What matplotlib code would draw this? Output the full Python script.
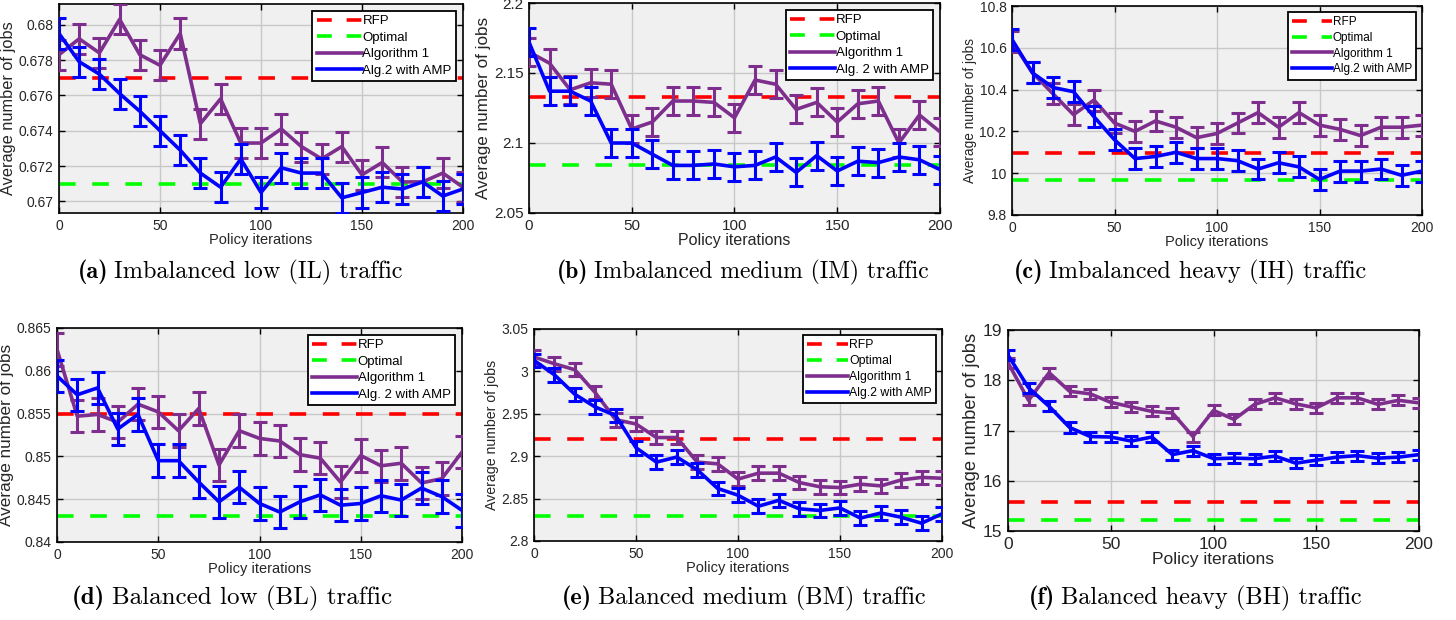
import matplotlib
matplotlib.use("Agg")
import matplotlib.pyplot as plt
from matplotlib.ticker import FuncFormatter
from matplotlib.lines import Line2D
import numpy as np

plt.rcParams['font.family'] = ['Liberation Sans', 'DejaVu Sans']

iters = list(range(0, 201, 10))

# (a) imbalanced low
il_rfp, il_opt = 0.677, 0.671
il_alg1 = [0.6783, 0.6792, 0.6784, 0.6803, 0.6783, 0.6777, 0.6795, 0.6744, 0.6758, 0.6733, 0.6733,
           0.6741, 0.6731, 0.6724, 0.6731, 0.6715, 0.6722, 0.6711, 0.6711, 0.6716, 0.6708]
il_alg2 = [0.6795, 0.6779, 0.6772, 0.6761, 0.6751, 0.6740, 0.6729, 0.6716, 0.6708, 0.6724, 0.6705,
           0.6719, 0.6716, 0.6716, 0.6702, 0.6705, 0.6708, 0.6707, 0.6711, 0.6703, 0.6707]
il_err = 0.00085

# (b) imbalanced medium
im_rfp, im_opt = 2.133, 2.084
im_alg1 = [2.165, 2.157, 2.138, 2.143, 2.142, 2.110, 2.115, 2.130, 2.130, 2.129, 2.118,
           2.145, 2.142, 2.124, 2.129, 2.115, 2.128, 2.130, 2.100, 2.120, 2.108]
im_alg2 = [2.172, 2.137, 2.137, 2.130, 2.100, 2.100, 2.092, 2.084, 2.084, 2.085, 2.083,
           2.084, 2.090, 2.079, 2.091, 2.080, 2.087, 2.086, 2.090, 2.088, 2.081]
im_err = 0.01

# (c) imbalanced heavy
ih_rfp, ih_opt = 10.098, 9.967
ih_alg1 = [10.63, 10.48, 10.38, 10.28, 10.35, 10.24, 10.20, 10.25, 10.22, 10.17, 10.19,
           10.24, 10.29, 10.22, 10.29, 10.23, 10.21, 10.18, 10.22, 10.22, 10.23]
ih_alg2 = [10.64, 10.48, 10.41, 10.39, 10.27, 10.16, 10.07, 10.08, 10.10, 10.07, 10.07,
           10.06, 10.02, 10.05, 10.03, 9.97, 10.01, 10.01, 10.02, 9.99, 10.01]
ih_err = 0.05

# (d) balanced low
bl_rfp, bl_opt = 0.855, 0.843
bl_alg1 = [0.8625, 0.8547, 0.8549, 0.8540, 0.8561, 0.8552, 0.8530, 0.8556, 0.8490, 0.8530, 0.8521,
           0.8518, 0.8502, 0.8498, 0.8470, 0.8501, 0.8489, 0.8492, 0.8469, 0.8474, 0.8505]
bl_alg2 = [0.8594, 0.8572, 0.8580, 0.8532, 0.8549, 0.8495, 0.8495, 0.8470, 0.8447, 0.8464, 0.8445,
           0.8435, 0.8447, 0.8455, 0.8443, 0.8445, 0.8454, 0.8449, 0.8463, 0.8453, 0.8437]
bl_err = 0.0019

# (e) balanced medium
bm_rfp, bm_opt = 2.920, 2.829
bm_alg1 = [3.017, 3.009, 3.002, 2.975, 2.943, 2.938, 2.922, 2.922, 2.893, 2.891, 2.873,
           2.880, 2.880, 2.869, 2.864, 2.863, 2.867, 2.865, 2.872, 2.875, 2.874]
bm_alg2 = [3.013, 2.996, 2.973, 2.958, 2.948, 2.910, 2.893, 2.899, 2.884, 2.862, 2.854,
           2.841, 2.848, 2.838, 2.836, 2.839, 2.827, 2.833, 2.828, 2.821, 2.832]
bm_err = 0.008

# (f) balanced heavy
bh_rfp, bh_opt = 15.58, 15.226
bh_alg1 = [18.35, 17.60, 18.15, 17.78, 17.73, 17.56, 17.47, 17.38, 17.35, 16.88, 17.40,
           17.22, 17.52, 17.65, 17.53, 17.45, 17.65, 17.65, 17.52, 17.60, 17.55]
bh_alg2 = [18.50, 17.85, 17.48, 17.06, 16.88, 16.87, 16.79, 16.87, 16.52, 16.60, 16.44,
           16.45, 16.44, 16.49, 16.35, 16.41, 16.47, 16.50, 16.45, 16.47, 16.52]
bh_err = 0.1

RED, GREEN, PURPLE, BLUE = '#ff0000', '#00ff00', '#7e2f8e', '#0000ff'
DASH = (0, (4.6, 4.6))
LW = 2.6

W, H = 1456, 620
fig = plt.figure(figsize=(W / 100, H / 100), dpi=100)


def box(x0, x1, y0, y1):
    # pixel box -> figure fraction
    return [x0 / W, 1 - y1 / H, (x1 - x0) / W, (y1 - y0) / H]


def caption(cx, cy, letter, rest, size=17.5):
    t1 = fig.text(0, 0, '(%s)' % letter, family='cmb10', fontsize=size, ha='left', va='center')
    t2 = fig.text(0, 0, rest, family='cmr10', fontsize=size, ha='left', va='center')
    r = fig.canvas.get_renderer()
    w1 = t1.get_window_extent(r).width
    w2 = t2.get_window_extent(r).width
    gap = size * 0.35
    left = cx - (w1 + gap + w2) / 2
    t1.set_position((left / W, 1 - cy / H))
    t2.set_position(((left + w1 + gap) / W, 1 - cy / H))


def panel(rect, alg1, alg2, err, rfp, opt, ylim, ystep, alg2_name,
          legend=True, fs=10, xfs=10.5, yfs=11, lfs=9.5):
    ax = fig.add_axes(rect)
    ax.set_facecolor('#f0f0f0')
    ax.plot([0, 200], [rfp, rfp], ls=DASH, color=RED, lw=LW, zorder=2)
    ax.plot([0, 200], [opt, opt], ls=DASH, color=GREEN, lw=LW, zorder=2)
    ax.errorbar(iters, alg1, yerr=err, color=PURPLE, lw=LW, elinewidth=2.2, capsize=5,
                capthick=2.2, zorder=3)
    ax.errorbar(iters, alg2, yerr=err, color=BLUE, lw=LW, elinewidth=2.2, capsize=5,
                capthick=2.2, zorder=4)
    ax.set_xlim(0, 200)
    ax.set_ylim(*ylim)
    ax.set_xticks([0, 50, 100, 150, 200])
    lo = np.ceil(ylim[0] / ystep - 1e-6) * ystep
    ax.set_yticks(np.arange(lo, ylim[1] + ystep * 1e-3, ystep))
    ax.yaxis.set_major_formatter(FuncFormatter(lambda v, p: ('%.4f' % v).rstrip('0').rstrip('.')))
    ax.grid(True, color='#c8c8c8', lw=1.0)
    ax.set_axisbelow(True)
    ax.tick_params(direction='in', top=True, right=True, labelsize=fs, length=4, width=1, pad=4,
                   labelcolor='#262626')
    for s in ax.spines.values():
        s.set_linewidth(1.2)
    ax.set_xlabel('Policy iterations', fontsize=xfs, labelpad=0, color='#262626')
    ax.set_ylabel('Average number of jobs', fontsize=yfs, labelpad=2, color='#262626')
    if legend:
        hs = [Line2D([], [], color=RED, lw=LW, ls=(0, (4.1, 4.1))),
              Line2D([], [], color=GREEN, lw=LW, ls=(0, (4.1, 4.1))),
              Line2D([], [], color=PURPLE, lw=LW),
              Line2D([], [], color=BLUE, lw=LW)]
        labels = ['RFP', 'Optimal', 'Algorithm 1', alg2_name]
        leg = ax.legend(hs, labels, loc='upper right', fontsize=lfs, fancybox=False, framealpha=1,
                        edgecolor='black', handlelength=3.4, handletextpad=0.05,
                        labelspacing=0.32, borderpad=0.35, borderaxespad=0.5)
        leg.get_frame().set_linewidth(1.3)
    return ax


panel(box(59, 463, 4, 213), il_alg1, il_alg2, il_err, il_rfp, il_opt, (0.66934, 0.68117), 0.002,
      'Alg.2 with AMP', yfs=11.8)
panel(box(529, 940, 3, 213), im_alg1, im_alg2, im_err, im_rfp, im_opt, (2.05, 2.2), 0.05,
      'Alg. 2 with AMP', fs=11, xfs=11.5, yfs=12.3)
panel(box(1012, 1422, 6, 215), ih_alg1, ih_alg2, ih_err, ih_rfp, ih_opt, (9.8, 10.8), 0.2,
      'Alg.2 with AMP', yfs=9.8, lfs=8.5)
panel(box(57, 462, 328, 542), bl_alg1, bl_alg2, bl_err, bl_rfp, bl_opt, (0.84, 0.865), 0.005,
      'Alg. 2 with AMP', yfs=12.3)
panel(box(534, 942, 329, 541), bm_alg1, bm_alg2, bm_err, bm_rfp, bm_opt, (2.8, 3.05), 0.05,
      'Alg.2 with AMP', yfs=10.2, lfs=8.8)
panel(box(1008, 1419, 330, 531), bh_alg1, bh_alg2, bh_err, bh_rfp, bh_opt, (15, 19), 1,
      'Alg. 2 with AMP', legend=False, fs=12.5, xfs=12.5, yfs=13.2)

caption(240, 272, 'a', 'Imbalanced low (IL) traffic')
caption(743, 272, 'b', 'Imbalanced medium (IM) traffic', size=17)
caption(1190, 272, 'c', 'Imbalanced heavy (IH) traffic')
caption(232, 598, 'd', 'Balanced low (BL) traffic', size=18)
caption(744, 598, 'e', 'Balanced medium (BM) traffic')
caption(1195, 598, 'f', 'Balanced heavy (BH) traffic')

fig.savefig('out.png', dpi=100)
